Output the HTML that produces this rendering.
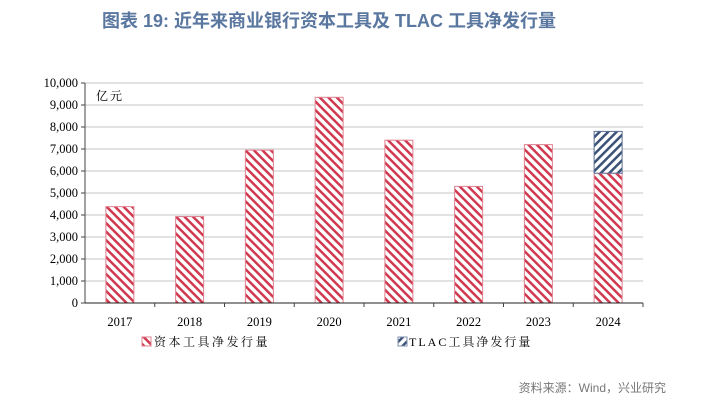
<!DOCTYPE html>
<html><head><meta charset="utf-8"><style>
body{margin:0;background:#fff;width:708px;height:405px;overflow:hidden;font-family:"Liberation Sans","Noto Sans CJK SC",sans-serif}
</style></head><body>
<svg width="708" height="405">
<defs>
<pattern id="pr" width="6" height="6" patternUnits="userSpaceOnUse" patternTransform="rotate(-45)"><rect width="6" height="6" fill="#fff"/><rect width="2.5" height="6" fill="#d0394f"/></pattern>
<pattern id="pb" width="6" height="6" patternUnits="userSpaceOnUse" patternTransform="rotate(45)"><rect width="6" height="6" fill="#fff"/><rect width="2.5" height="6" fill="#3c5378"/></pattern>
</defs>
<text x="102" y="27" font-size="18" font-weight="bold" fill="#5a77a0">图表 19: 近年来商业银行资本工具及 TLAC 工具净发行量</text>
<g id="grid"></g><g id="bars"></g><g id="axes"></g>
<text x="96" y="100" font-size="12" letter-spacing="2" font-family="'Noto Serif CJK SC',serif">亿元</text>
<rect x="142" y="337" width="9" height="9" fill="url(#pr)" stroke="#e0808f"/>
<text x="154" y="346" font-size="12" letter-spacing="2.5" font-family="'Noto Serif CJK SC',serif">资本工具净发行量</text>
<rect x="398" y="337" width="9" height="9" fill="url(#pb)" stroke="#8090b0"/>
<text x="409" y="346" font-size="12" letter-spacing="2" font-family="'Liberation Serif','Noto Serif CJK SC',serif">TLAC工具净发行量</text>
<text x="666" y="392" font-size="12" fill="#777" text-anchor="end">资料来源：Wind，兴业研究</text>
</svg>
<script>
const categories=["2017","2018","2019","2020","2021","2022","2023","2024"];
const capital=[4380,3930,6950,9350,7400,5300,7200,5900];
const tlac=[0,0,0,0,0,0,0,1900];
const yTicks=[0,1000,2000,3000,4000,5000,6000,7000,8000,9000,10000];
const NS="http://www.w3.org/2000/svg";
const x0=85,x1=643,y0=303,y1=83,ymax=10000;
const bw=(x1-x0)/categories.length;
const y=v=>y0-(v/ymax)*(y0-y1);
function mk(t,a,p){const e=document.createElementNS(NS,t);for(const k in a)e.setAttribute(k,a[k]);p.appendChild(e);return e;}
const G=document.getElementById('grid'),B=document.getElementById('bars'),A=document.getElementById('axes');
yTicks.forEach(v=>{
 if(v>0){const l=mk('line',{x1:x0,x2:x1,y1:y(v),y2:y(v),stroke:'#d9d9d9','stroke-width':1.5},G);
 
 }
 const t=mk('text',{x:x0-7,y:y(v)+4,'font-size':12.5,'text-anchor':'end','font-family':"'Liberation Serif',serif"},A);t.textContent=v.toLocaleString('en-US');
 
 
 mk('line',{x1:x0-4,x2:x0,y1:y(v),y2:y(v),stroke:'#444'},A);
});
mk('line',{x1:x0,x2:x0,y1:y1,y2:y0,stroke:'#444'},A);
mk('line',{x1:x0,x2:x1,y1:y0,y2:y0,stroke:'#222'},A);
categories.forEach((c,i)=>{
 const cx=x0+bw*(i+0.5),w=28;
 const r=mk('rect',{x:cx-w/2,y:y(capital[i]),width:w,height:y0-y(capital[i]),fill:'url(#pr)',stroke:'#e0808f'},B);
 
 
 if(tlac[i]>0){const r2=mk('rect',{x:cx-w/2,y:y(capital[i]+tlac[i]),width:w,height:y(capital[i])-y(capital[i]+tlac[i]),fill:'url(#pb)',stroke:'#5a6f95'},B);
 
 }
 mk('line',{x1:x0+bw*(i+1),x2:x0+bw*(i+1),y1:y0,y2:y0+4,stroke:'#444'},A);
 const t=mk('text',{x:cx,y:y0+23,'font-size':12.5,'text-anchor':'middle','font-family':"'Liberation Serif',serif"},A);t.textContent=c;
 
 
});
</script>
</body></html>
